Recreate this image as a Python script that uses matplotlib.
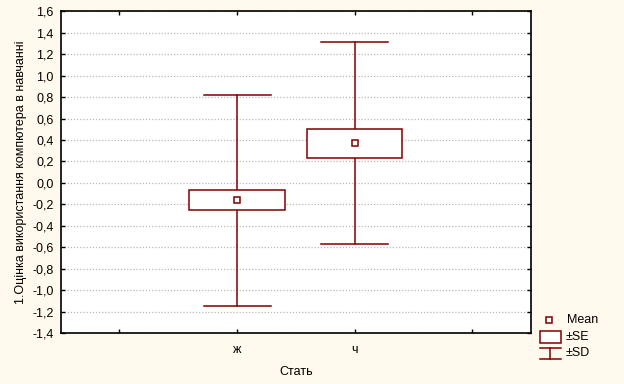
import matplotlib
matplotlib.use("Agg")
import matplotlib.pyplot as plt
from matplotlib.patches import Rectangle
from matplotlib.lines import Line2D
import numpy as np

plt.rcParams['font.family'] = ['Liberation Sans', 'DejaVu Sans']

categories = ['ж', 'ч']
cat_pos = [2, 3]
means = [-0.163, 0.369]
se = [0.092, 0.138]
sd = [0.986, 0.941]

yticks = [-1.4, -1.2, -1.0, -0.8, -0.6, -0.4, -0.2, 0.0, 0.2, 0.4, 0.6, 0.8, 1.0, 1.2, 1.4, 1.6]
ytick_labels = [f"{v:.1f}".replace('.', ',') for v in yticks]

red = '#800000'
bg = '#FFF9EE'
fs = 9

fig = plt.figure(figsize=(6.24, 3.84), dpi=100, facecolor=bg)
ax = fig.add_axes([60.7/624, 1-333/384, (531-60.7)/624, (333-11.3)/384])
ax.set_facecolor('white')

box_w = 0.81
cap_w = 0.57
for x, m, s, d in zip(cat_pos, means, se, sd):
    ax.plot([x, x], [m + s, m + d], color=red, lw=1.1, zorder=3)
    ax.plot([x, x], [m - d, m - s], color=red, lw=1.1, zorder=3)
    ax.plot([x - cap_w/2, x + cap_w/2], [m + d, m + d], color=red, lw=1.1, zorder=3)
    ax.plot([x - cap_w/2, x + cap_w/2], [m - d, m - d], color=red, lw=1.1, zorder=3)
    ax.add_patch(Rectangle((x - box_w/2, m - s), box_w, 2*s, facecolor='white',
                           edgecolor=red, lw=1.1, zorder=4))
    ax.plot([x], [m], marker='s', ms=5, mfc='white', mec=red, mew=1.1, zorder=5, ls='none')

ax.set_xlim(0.5, 4.5)
ax.set_ylim(-1.4, 1.6)
ax.set_xticks([1, 2, 3, 4])
ax.set_xticklabels(['', 'ж', 'ч', ''])
ax.set_yticks(yticks)
ax.set_yticklabels(ytick_labels)
ax.tick_params(direction='in', length=3, width=1, labelsize=fs, top=True, right=True,
               color='black')
ax.tick_params(axis='y', pad=5)
ax.tick_params(axis='x', pad=8)
for sp in ax.spines.values():
    sp.set_linewidth(1.2)
ax.grid(axis='y', color='#b8b8b8', ls=(0, (1, 1.5)), lw=0.9, zorder=0)
ax.set_axisbelow(True)

ax.set_xlabel('Стать', fontsize=fs, labelpad=7)
ax.set_ylabel('1.Оцінка використання компютера в навчанні', fontsize=fs, labelpad=4)

# legend (figure pixel coords converted)
def fx(px):
    return px / 624
def fy(py):
    return 1 - py / 384

fig.add_artist(Line2D([fx(549)], [fy(320)], marker='s', ms=5, mfc='white', mec=red,
                      mew=1.1, ls='none', transform=fig.transFigure))
fig.text(fx(567), fy(320), 'Mean', fontsize=fs, va='center', ha='left')
fig.add_artist(Rectangle((fx(540), fy(343.3)), fx(560.7) - fx(540), fy(330.7) - fy(343.3),
                         facecolor='white', edgecolor=red, lw=1.1, transform=fig.transFigure))
fig.text(fx(566), fy(337), '±SE', fontsize=fs, va='center', ha='left')
for yy in (347.7, 359.3):
    fig.add_artist(Line2D([fx(540), fx(561)], [fy(yy), fy(yy)], color=red, lw=1.1,
                          transform=fig.transFigure))
fig.add_artist(Line2D([fx(550), fx(550)], [fy(347.7), fy(359.3)], color=red, lw=1.1,
                      transform=fig.transFigure))
fig.text(fx(566), fy(353), '±SD', fontsize=fs, va='center', ha='left')

fig.savefig('out.png', dpi=100, facecolor=bg)
